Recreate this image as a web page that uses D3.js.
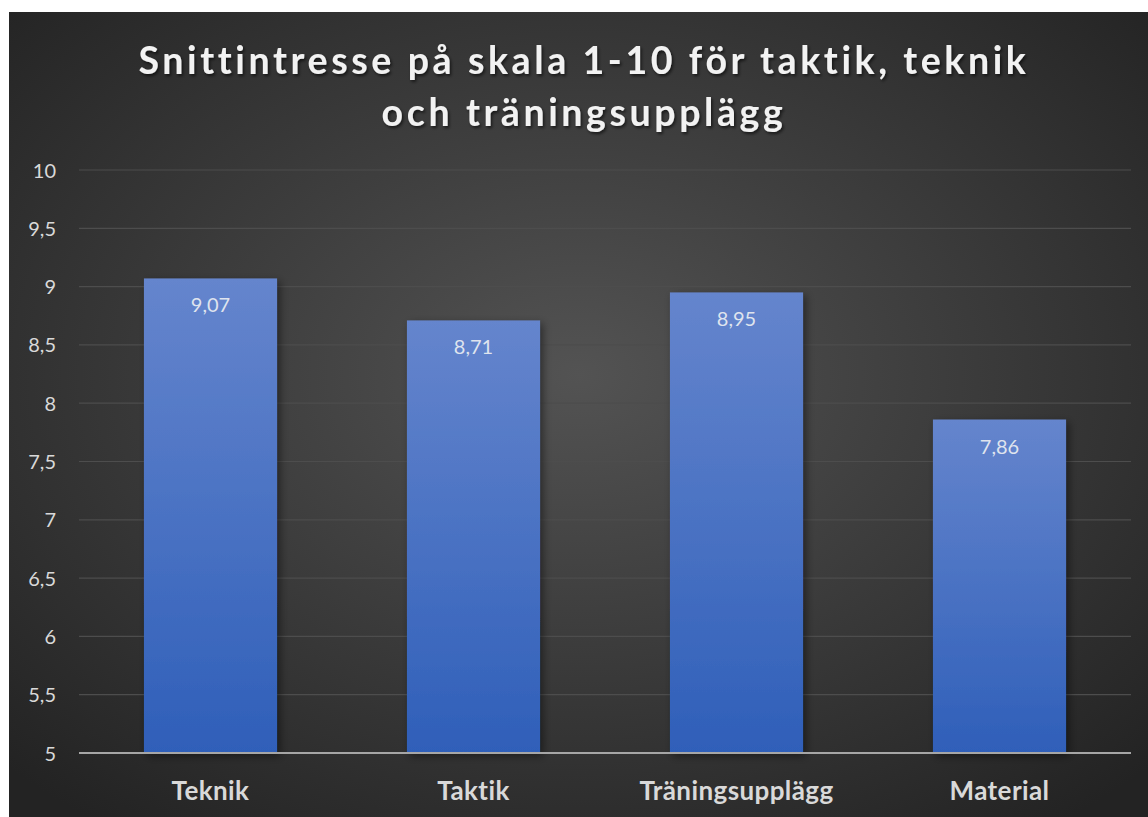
<!DOCTYPE html>
<html>
<head>
<meta charset="utf-8">
<script src="https://cdn.jsdelivr.net/npm/d3@7"></script>
<style>
  body { margin: 0; background: #fff; }
  svg { display: block; }
</style>
</head>
<body>
<svg id="chart" width="1148" height="817"></svg>
<script>
// data
const kategorier = ["Teknik", "Taktik", "Träningsupplägg", "Material"];
const snitt = [9.07, 8.71, 8.95, 7.86];
const yTicks = [5, 5.5, 6, 6.5, 7, 7.5, 8, 8.5, 9, 9.5, 10];
const titelRader = ["Snittintresse på skala 1-10 för taktik, teknik", "och träningsupplägg"];

const WIDTH = 1148, HEIGHT = 817;
const svg = d3.select("#chart");
const defs = svg.append("defs");

// bakgrund
const bg = defs.append("radialGradient").attr("id", "bg")
  .attr("cx", "50%").attr("cy", "45%").attr("r", "70%");
bg.append("stop").attr("offset", "0%").attr("stop-color", "#535353");
bg.append("stop").attr("offset", "100%").attr("stop-color", "#232323");

const stapel = defs.append("linearGradient").attr("id", "stapel")
  .attr("x1", 0).attr("y1", 0).attr("x2", 0).attr("y2", 1);
stapel.append("stop").attr("offset", "0%").attr("stop-color", "#6585cd");
stapel.append("stop").attr("offset", "100%").attr("stop-color", "#2f5fb9");

const skugga = defs.append("filter").attr("id", "skugga")
  .attr("x", "-20%").attr("y", "-20%").attr("width", "150%").attr("height", "150%");
skugga.append("feDropShadow").attr("dx", 3).attr("dy", 3).attr("stdDeviation", 4)
  .attr("flood-color", "#000").attr("flood-opacity", 0.45);

const textSkugga = defs.append("filter").attr("id", "textskugga");
textSkugga.append("feDropShadow").attr("dx", 1.5).attr("dy", 2).attr("stdDeviation", 1.5)
  .attr("flood-color", "#000").attr("flood-opacity", 0.6);

svg.append("rect").attr("x", 9).attr("y", 12)
  .attr("width", WIDTH - 9).attr("height", HEIGHT - 12)
  .attr("fill", "url(#bg)");

// skalor
const plot = { left: 79, right: 1131, top: 170, bottom: 753 };
const x = d3.scaleBand().domain(kategorier)
  .range([plot.left, plot.right]).paddingInner(0.494).paddingOuter(0.247);
const y = d3.scaleLinear().domain([5, 10]).range([plot.bottom, plot.top]);

// rutnät
svg.append("g").selectAll("line")
  .data(yTicks.filter(t => t > 5))
  .enter().append("line")
  .attr("x1", plot.left).attr("x2", plot.right)
  .attr("y1", d => y(d)).attr("y2", d => y(d))
  .attr("stroke", "#4d4d4d").attr("stroke-width", 1.2);

// y-axel
const fmt = d => String(d).replace(".", ",");
const yAxis = svg.append("g")
  .attr("transform", `translate(${plot.left - 23},0)`)
  .call(d3.axisLeft(y).tickValues(yTicks).tickFormat(fmt).tickSize(0));
yAxis.select(".domain").remove();
yAxis.selectAll("text")
  .attr("fill", "#d9d9d9").attr("font-family", "Lato, 'Open Sans', sans-serif")
  .attr("font-size", 20).attr("dy", "0.35em").attr("x", 0);

// staplar
svg.append("g").selectAll("rect")
  .data(kategorier)
  .enter().append("rect")
  .attr("x", d => x(d))
  .attr("y", (d, i) => y(snitt[i]))
  .attr("width", x.bandwidth())
  .attr("height", (d, i) => y(5) - y(snitt[i]))
  .attr("fill", "url(#stapel)")
  .attr("filter", "url(#skugga)");

// värdeetiketter
svg.append("g").selectAll("text")
  .data(kategorier)
  .enter().append("text")
  .attr("x", d => x(d) + x.bandwidth() / 2)
  .attr("y", (d, i) => y(snitt[i]) + 34)
  .attr("text-anchor", "middle")
  .attr("fill", "#dfe4ee")
  .attr("font-family", "Lato, 'Open Sans', sans-serif")
  .attr("font-size", 20)
  .text((d, i) => snitt[i].toFixed(2).replace(".", ","));

// baslinje
svg.append("line")
  .attr("x1", plot.left).attr("x2", plot.right)
  .attr("y1", y(5)).attr("y2", y(5))
  .attr("stroke", "#a6a6a6").attr("stroke-width", 2.2);

// x-axel
const xAxis = svg.append("g")
  .attr("transform", `translate(0,${plot.bottom})`)
  .call(d3.axisBottom(x).tickSize(0));
xAxis.select(".domain").remove();
xAxis.selectAll("text")
  .attr("fill", "#d9d9d9").attr("font-family", "Lato, 'Open Sans', sans-serif")
  .attr("font-weight", "bold").attr("font-size", 26).attr("letter-spacing", 0.4)
  .attr("dy", 0).attr("y", 47);

// titel
svg.append("g").selectAll("text")
  .data(titelRader)
  .enter().append("text")
  .attr("x", 584)
  .attr("y", (d, i) => 74 + i * 52)
  .attr("text-anchor", "middle")
  .attr("fill", "#f2f2f2")
  .attr("font-family", "Lato, 'Open Sans', sans-serif")
  .attr("font-weight", "bold")
  .attr("font-size", 37.5)
  .attr("letter-spacing", 3.6)
  .attr("filter", "url(#textskugga)")
  .text(d => d);
</script>
</body>
</html>
